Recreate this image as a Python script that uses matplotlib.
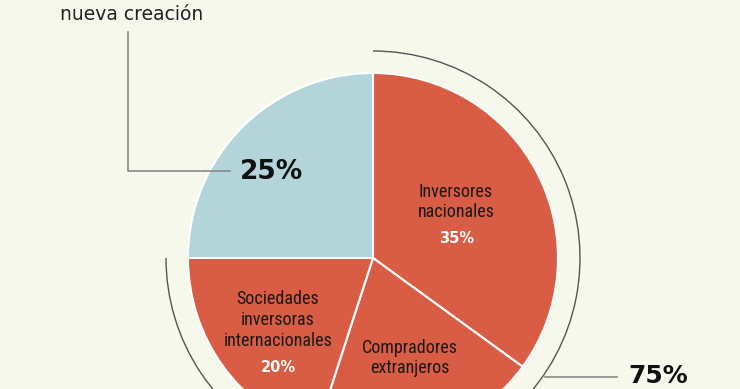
import matplotlib
matplotlib.use("Agg")
import matplotlib.pyplot as plt
from matplotlib.patches import Arc

W, H = 740, 389

# datos (sentido horario desde las 12)
categorias = ["Inversores\nnacionales", "Compradores\nextranjeros",
              "Sociedades\ninversoras\ninternacionales", "nueva creación"]
valores = [35, 20, 20, 25]
colores = ["#D95C45", "#D95C45", "#D95C45", "#B3D4D9"]
etiqueta_total = "75%"

BG = "#F7F8EC"
COND = ["Roboto Condensed", "Liberation Sans Narrow", "Roboto"]

fig = plt.figure(figsize=(W / 100, H / 100), dpi=100, facecolor=BG)
ax = fig.add_axes([0, 0, 1, 1])
ax.set_facecolor(BG)

cx, cy, r = 373, H - 258, 185

wedges, _ = ax.pie(valores, colors=colores, startangle=90, counterclock=False,
                   center=(cx, cy), radius=r, frame=True,
                   wedgeprops=dict(edgecolor="white", linewidth=1.5))
ax.set_xlim(0, W)
ax.set_ylim(0, H)
ax.set_aspect("equal")
ax.axis("off")

# arco exterior del 75%
ax.add_patch(Arc((cx, cy), 2 * 207, 2 * 207, theta1=180, theta2=450,
                 color="#555555", lw=1.0))

# textos dentro de las porciones
ax.text(456, H - 202, categorias[0], ha="center", va="center", fontsize=13,
        family=COND, linespacing=1.2, color="#1a1a1a")
ax.text(457, H - 238, f"{valores[0]}%", ha="center", va="center", fontsize=10.5,
        fontweight="bold", color="white")

ax.text(410, H - 358, categorias[1], ha="center", va="center", fontsize=13,
        family=COND, linespacing=1.2, color="#1a1a1a")

ax.text(278, H - 320, categorias[2], ha="center", va="center", fontsize=13,
        family=COND, linespacing=1.25, color="#1a1a1a")
ax.text(278, H - 368, f"{valores[2]}%", ha="center", va="center", fontsize=10.5,
        fontweight="bold", color="white")

# 25% con línea guía
ax.text(271, H - 172, f"{valores[3]}%", ha="center", va="center", fontsize=19,
        fontweight="bold", color="#111111")
ax.plot([128, 128, 230], [H - 32, H - 171, H - 171], color="#888888", lw=1.2)
ax.text(60, H - 14, categorias[3], ha="left", va="center", fontsize=13.5,
        color="#222222")

# 75% con línea guía
ax.plot([545, 617], [H - 377, H - 377], color="#888888", lw=1.2)
ax.text(628, H - 364, etiqueta_total, ha="left", va="top", fontsize=18,
        fontweight="bold", color="#111111")

fig.savefig("out.png", dpi=100, facecolor=BG)
